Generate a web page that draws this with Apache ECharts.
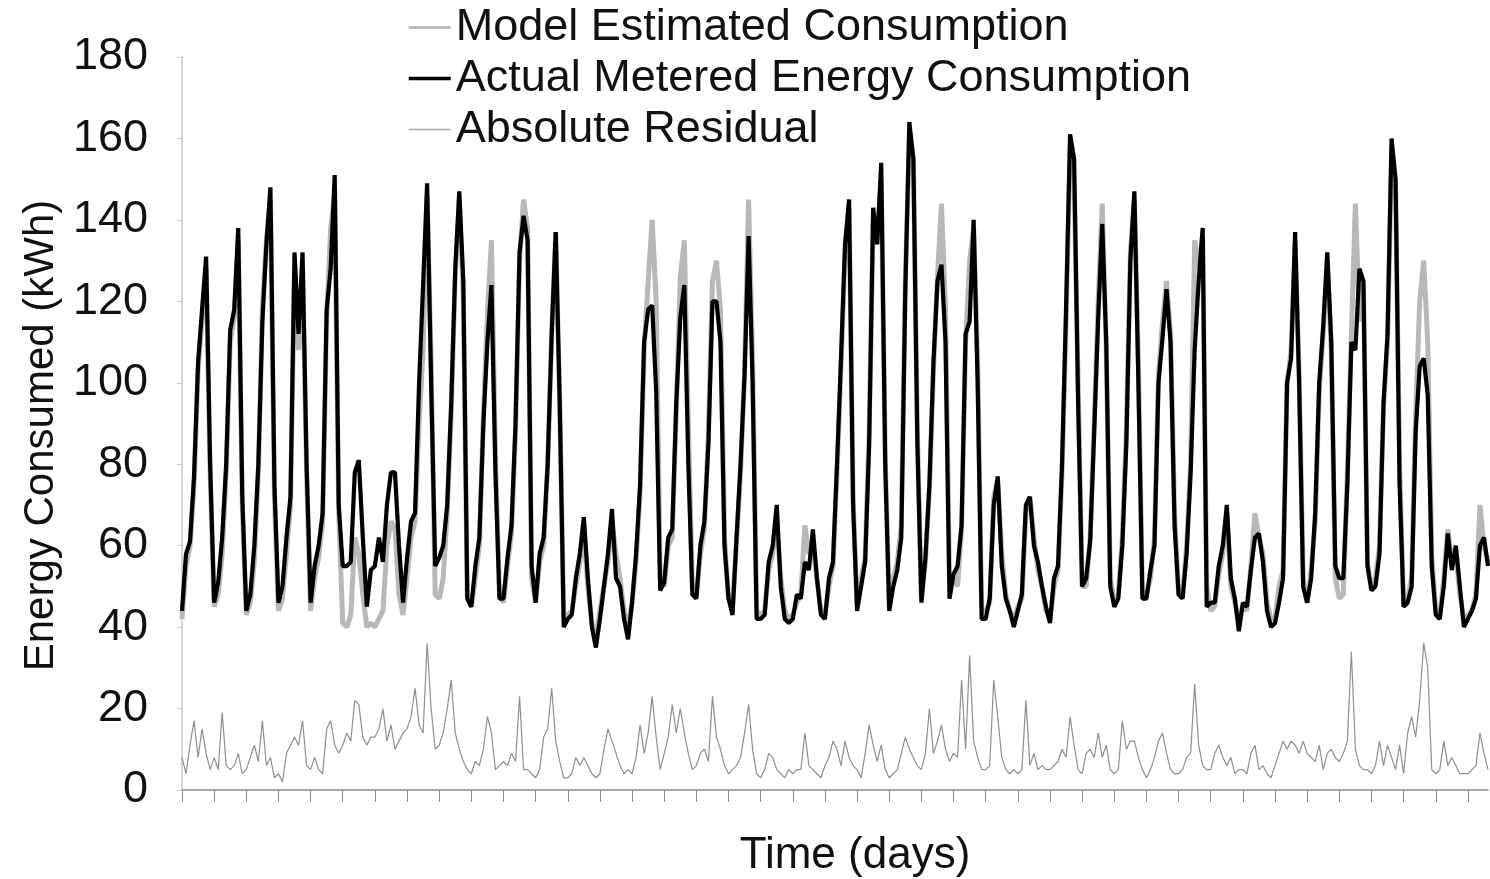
<!DOCTYPE html>
<html>
<head>
<meta charset="utf-8">
<title>Energy Consumed</title>
<script src="https://cdn.jsdelivr.net/npm/echarts@6/dist/echarts.min.js"></script>
<style>
  html, body { margin: 0; padding: 0; background: #fff; }
  #chart { width: 1490px; height: 879px; }
</style>
</head>
<body>
<div id="chart"></div>
<script>
// 8 readings per day (every 3 hours), 40 full days + part of day 40
const PER_DAY = 8;

const actual = [
  44, 58, 61, 77, 105, 118, 131, 80,   // d0
  46, 51, 62, 80, 113, 118, 138, 72,   // d1
  44, 48, 60, 80, 115, 134, 148, 75,   // d2
  46, 50, 62, 72, 132, 112, 132, 80,   // d3
  46, 55, 60, 68, 118, 128, 151, 70,   // d4
  55, 55, 56, 78, 81, 62, 45, 54,      // d5
  55, 62, 56, 70, 78, 78, 60, 46,      // d6
  57, 66, 68, 100, 124, 149, 100, 55,  // d7
  57, 60, 70, 95, 128, 147, 125, 47,   // d8
  45, 55, 62, 90, 110, 124, 78, 47,    // d9
  47, 57, 65, 90, 132, 141, 135, 55,   // d10
  46, 58, 62, 80, 112, 137, 95, 40,    // d11
  42, 43, 52, 58, 67, 52, 40, 35,      // d12
  42, 50, 58, 69, 52, 50, 42, 37,      // d13
  46, 58, 75, 110, 118, 119, 98, 49,   // d14
  51, 62, 64, 95, 116, 124, 80, 48,    // d15
  47, 60, 66, 85, 120, 120, 110, 60,   // d16
  47, 43, 62, 80, 102, 136, 100, 42,   // d17
  42, 43, 56, 60, 70, 50, 42, 41,      // d18
  42, 48, 47, 56, 54, 64, 52, 43,      // d19
  42, 52, 56, 80, 106, 134, 145, 70,   // d20
  44, 50, 56, 85, 143, 134, 154, 80,   // d21
  44, 50, 54, 62, 123, 164, 155, 85,   // d22
  46, 57, 75, 105, 125, 129, 110, 47,  // d23
  53, 55, 65, 112, 115, 140, 100, 42,  // d24
  42, 47, 70, 77, 55, 47, 44, 40,      // d25
  44, 48, 70, 72, 60, 56, 50, 45,      // d26
  41, 52, 55, 80, 118, 161, 155, 95,   // d27
  50, 52, 61, 88, 116, 139, 110, 50,   // d28
  45, 47, 60, 85, 130, 147, 100, 47,   // d29
  47, 54, 60, 100, 111, 123, 110, 65,  // d30
  48, 47, 58, 78, 108, 125, 138, 45,   // d31
  46, 46, 55, 60, 70, 52, 47, 39,      // d32
  46, 45, 54, 62, 63, 56, 44, 40,      // d33
  41, 46, 52, 100, 106, 137, 100, 50,  // d34
  46, 52, 68, 100, 114, 132, 110, 55,  // d35
  52, 52, 75, 110, 108, 128, 125, 55,  // d36
  49, 50, 58, 95, 112, 160, 150, 75,   // d37
  45, 46, 50, 88, 104, 106, 97, 55,    // d38
  43, 42, 50, 63, 54, 60, 50, 40,      // d39
  42, 44, 47, 60, 62, 55               // d40
];

const model = [
  42, 55, 60, 75, 103, 116, 128, 78,
  45, 48, 58, 78, 110, 116, 135, 70,
  43, 46, 56, 78, 118, 135, 145, 72,
  44, 47, 58, 70, 128, 108, 128, 78,
  44, 52, 57, 66, 116, 138, 146, 68,
  41, 40, 43, 62, 58, 48, 40, 41,
  40, 42, 44, 60, 66, 64, 48, 43,
  52, 62, 66, 90, 108, 146, 105, 48,
  47, 52, 68, 93, 126, 145, 122, 47,
  45, 52, 60, 92, 117, 135, 82, 48,
  46, 55, 63, 88, 130, 145, 138, 52,
  46, 56, 60, 80, 112, 137, 95, 42,
  43, 44, 50, 56, 63, 50, 41, 38,
  44, 50, 56, 66, 58, 52, 44, 40,
  46, 56, 73, 108, 125, 140, 120, 52,
  50, 60, 62, 93, 126, 135, 90, 50,
  48, 58, 64, 88, 125, 130, 118, 62,
  47, 45, 61, 78, 103, 145, 105, 44,
  43, 44, 54, 58, 66, 52, 44, 42,
  43, 46, 48, 65, 58, 60, 52, 44,
  43, 50, 55, 78, 104, 132, 143, 72,
  45, 52, 57, 88, 140, 135, 150, 82,
  45, 52, 56, 65, 125, 160, 155, 88,
  47, 56, 74, 103, 126, 144, 118, 50,
  52, 50, 64, 110, 130, 138, 105, 44,
  44, 46, 72, 76, 58, 48, 44, 42,
  45, 47, 68, 72, 62, 54, 50, 44,
  42, 50, 54, 78, 115, 158, 150, 100,
  50, 50, 62, 90, 120, 144, 108, 52,
  46, 48, 62, 88, 132, 145, 105, 48,
  48, 52, 62, 102, 115, 125, 112, 68,
  48, 48, 60, 80, 135, 128, 136, 50,
  44, 45, 53, 58, 68, 50, 46, 42,
  45, 44, 55, 68, 62, 58, 46, 42,
  42, 50, 54, 100, 108, 134, 102, 52,
  46, 54, 66, 98, 112, 130, 108, 52,
  47, 48, 78, 112, 144, 115, 124, 56,
  49, 52, 60, 94, 110, 156, 148, 80,
  45, 47, 52, 92, 120, 130, 110, 58,
  44, 43, 52, 64, 56, 58, 48, 42,
  43, 44, 48, 70, 60, 56
];

const residual = [
  8, 4, 11, 17, 8, 15, 9, 5,
  8, 5, 19, 6, 5, 6, 9, 4,
  5, 8, 11, 7, 17, 6, 8, 3,
  4, 2, 9, 11, 13, 11, 17, 6,
  5, 8, 5, 4, 15, 17, 11, 9,
  11, 14, 12, 22, 21, 13, 11, 13,
  13, 15, 20, 12, 16, 10, 12, 14,
  15, 18, 25, 16, 14, 36, 20, 10,
  11, 14, 20, 27, 14, 10, 7, 5,
  4, 7, 6, 10, 18, 14, 5, 6,
  7, 6, 9, 7, 23, 5, 5, 4,
  3, 5, 13, 15, 25, 12, 7, 3,
  3, 4, 8, 6, 8, 6, 4, 3,
  4, 10, 15, 12, 9, 6, 4, 5,
  4, 8, 16, 9, 14, 23, 13, 5,
  9, 13, 21, 14, 20, 14, 9, 5,
  6, 9, 10, 7, 23, 13, 10, 6,
  4, 5, 6, 8, 14, 21, 10, 4,
  3, 5, 9, 8, 5, 4, 3, 5,
  4, 5, 5, 14, 6, 5, 4, 3,
  6, 8, 12, 10, 6, 12, 8, 6,
  5, 3, 9, 16, 11, 7, 11, 5,
  3, 4, 5, 9, 13, 10, 8, 6,
  5, 9, 20, 9, 12, 16, 10, 7,
  9, 8, 27, 10, 33, 12, 8, 5,
  5, 6, 27, 18, 8, 5, 4, 5,
  4, 5, 22, 6, 9, 5, 6, 5,
  5, 6, 7, 10, 8, 18, 11, 5,
  4, 9, 10, 8, 14, 8, 11, 5,
  4, 5, 17, 10, 12, 12, 8, 5,
  3, 5, 8, 12, 14, 9, 5, 4,
  4, 5, 8, 9, 26, 11, 6, 5,
  5, 9, 11, 8, 6, 8, 4, 5,
  5, 4, 9, 11, 5, 6, 4, 3,
  6, 9, 12, 10, 12, 11, 9, 12,
  9, 8, 7, 11, 5, 9, 10, 8,
  7, 9, 12, 34, 10, 6, 5, 5,
  4, 6, 12, 6, 11, 8, 5, 11,
  4, 14, 18, 13, 22, 36, 30, 5,
  4, 5, 12, 6, 8, 6, 4, 4,
  4, 5, 6, 14, 9, 5
];

const categories = [];
for (let i = 0; i < actual.length; i++) {
  const d = Math.floor(i / PER_DAY);
  const h = (i % PER_DAY) * (24 / PER_DAY);
  categories.push('Day ' + d + ' ' + h + ':00');
}

const FONT = '"Liberation Sans", Arial, sans-serif';

const chart = echarts.init(document.getElementById('chart'));
const option = {
  animation: false,
  backgroundColor: '#ffffff',
  textStyle: { fontFamily: FONT, color: '#111' },
  legend: {
    orient: 'vertical',
    left: 402,
    top: 0,
    itemWidth: 42,
    itemHeight: 14,
    itemGap: 6,
    itemStyle: { opacity: 0 },
    textStyle: { fontSize: 45, color: '#111', fontFamily: FONT },
    data: [
      { name: 'Model Estimated Consumption', lineStyle: { width: 3, color: '#bbbbbb' } },
      { name: 'Actual Metered Energy Consumption', lineStyle: { width: 3.5, color: '#000000' } },
      { name: 'Absolute Residual', lineStyle: { width: 1.5, color: '#aaaaaa' } }
    ]
  },
  grid: { left: 182, right: 2, top: 57, bottom: 89, containLabel: false, outerBoundsMode: 'none' },
  xAxis: {
    type: 'category',
    boundaryGap: false,
    data: categories,
    name: 'Time (days)',
    nameLocation: 'middle',
    nameGap: 44,
    nameTextStyle: { fontSize: 44, color: '#111', padding: [0, 0, 0, 40] },
    axisLine: { lineStyle: { color: '#8c8c8c', width: 1.5 } },
    axisTick: { show: true, interval: PER_DAY - 1, length: 12, lineStyle: { color: '#8c8c8c' } },
    axisLabel: { show: false },
    splitLine: { show: false }
  },
  yAxis: {
    type: 'value',
    min: 0,
    max: 180,
    interval: 20,
    name: 'Energy Consumed (kWh)',
    nameLocation: 'middle',
    nameGap: 120,
    nameTextStyle: { fontSize: 42, color: '#111', padding: [0, 24, 0, 0] },
    axisLine: { show: true, lineStyle: { color: '#c8c8c8', width: 1.5 } },
    axisTick: { show: true, length: 5, lineStyle: { color: '#c8c8c8' } },
    axisLabel: { fontSize: 45, color: '#111', margin: 34 },
    splitLine: { show: false }
  },
  series: [
    {
      name: 'Model Estimated Consumption',
      type: 'line',
      data: model,
      symbol: 'none',
      z: 2,
      lineStyle: { color: '#b8b8b8', width: 5 },
      itemStyle: { color: '#b8b8b8' }
    },
    {
      name: 'Actual Metered Energy Consumption',
      type: 'line',
      data: actual,
      symbol: 'none',
      z: 3,
      lineStyle: { color: '#000000', width: 4.2 },
      itemStyle: { color: '#000000' }
    },
    {
      name: 'Absolute Residual',
      type: 'line',
      data: residual,
      symbol: 'none',
      z: 4,
      lineStyle: { color: '#8f8f8f', width: 1.2 },
      itemStyle: { color: '#8f8f8f' }
    }
  ]
};
chart.setOption(option);
window.onresize = chart.resize;
</script>
</body>
</html>
